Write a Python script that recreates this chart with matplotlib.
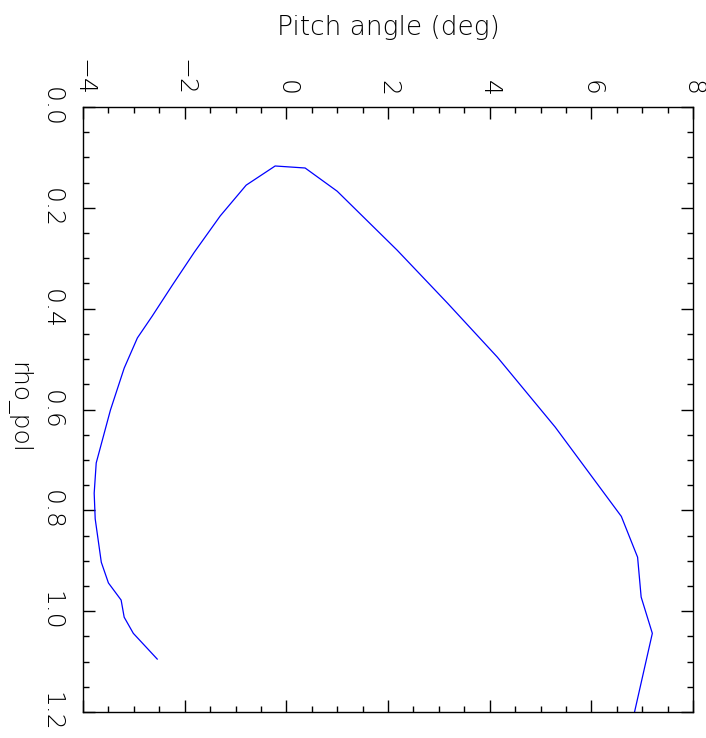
import matplotlib
matplotlib.use("Agg")
import matplotlib.pyplot as plt
from matplotlib.ticker import MultipleLocator

# Curve data (pitch angle in deg vs rho_pol)
pitch = [-2.54, -3.01, -3.19, -3.25, -3.50, -3.64, -3.76, -3.78, -3.74, -3.62,
         -3.46, -3.19, -2.93, -2.64, -2.24, -1.81, -1.30, -0.79, -0.22, 0.37,
         1.00, 2.18, 3.17, 4.15, 5.29, 6.59, 6.91, 6.98, 7.20, 6.85]
rho_pol = [1.095, 1.044, 1.012, 0.978, 0.944, 0.903, 0.817, 0.766, 0.706, 0.661,
           0.601, 0.518, 0.458, 0.415, 0.353, 0.288, 0.216, 0.155, 0.117, 0.121,
           0.167, 0.284, 0.389, 0.496, 0.635, 0.812, 0.893, 0.972, 1.044, 1.200]

x_ticks = [-4, -2, 0, 2, 4, 6, 8]
y_ticks = [0.0, 0.2, 0.4, 0.6, 0.8, 1.0, 1.2]
x_labels = ["\u22124", "\u22122", "0", "2", "4", "6", "8"]
y_labels = ["0.0", "0.2", "0.4", "0.6", "0.8", "1.0", "1.2"]

fam = "DejaVu Sans"
fw = "light"

fig = plt.figure(figsize=(7.06, 7.38), dpi=100)
ax = fig.add_axes([83/706, 1-712/738, 610/706, 605/738])
ax.plot(pitch, rho_pol, color="#0000ff", lw=0.9, clip_on=True)
ax.set_xlim(-4, 8)
ax.set_ylim(1.2, 0.0)

ax.xaxis.tick_top()
ax.xaxis.set_label_position("top")
ax.set_xticks(x_ticks)
ax.set_xticklabels(x_labels, rotation=-90, fontsize=18, family=fam, fontweight=fw)
ax.set_yticks(y_ticks)
ax.set_yticklabels(y_labels, rotation=-90, fontsize=18, family=fam, fontweight=fw,
                   va="center")
ax.xaxis.set_minor_locator(MultipleLocator(0.5))
ax.yaxis.set_minor_locator(MultipleLocator(0.05))
ax.tick_params(which="both", direction="in", top=True, bottom=True, left=True, right=True,
               width=1.0, color="black")
ax.tick_params(which="major", length=8.6)
ax.tick_params(axis="x", which="major", pad=8)
ax.tick_params(axis="y", which="major", pad=14)
ax.tick_params(which="minor", length=4.3)
for s in ax.spines.values():
    s.set_linewidth(1.0)

fig.text(388/706, 1-27/738, "Pitch angle (deg)", ha="center", va="center",
         fontsize=19, family=fam, fontweight=fw)
fig.text(18/706, 1-408/738, "rho_pol", ha="center", va="center", rotation=-90,
         fontsize=18, family=fam, fontweight=fw)

fig.savefig("out.png", dpi=100)
